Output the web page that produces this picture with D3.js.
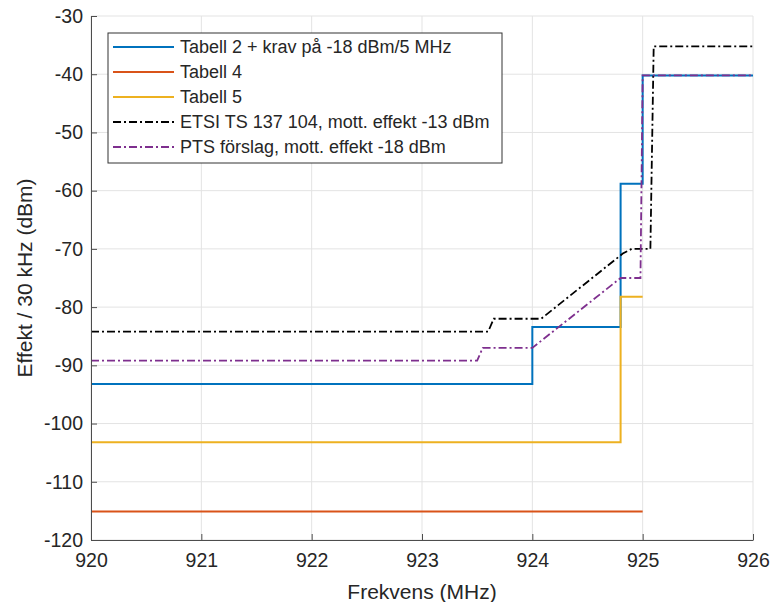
<!DOCTYPE html>
<html>
<head>
<meta charset="utf-8">
<script src="https://cdn.jsdelivr.net/npm/d3@7"></script>
<style>
  body { margin: 0; background: #fff; }
  svg { font-family: "Liberation Sans", Arial, Helvetica, sans-serif; }
</style>
</head>
<body>
<svg width="773" height="602"></svg>
<script>
// Values
var xTicks = [920, 921, 922, 923, 924, 925, 926];
var yTicks = [-30, -40, -50, -60, -70, -80, -90, -100, -110, -120];

var tabell2X = [920, 924, 924, 924.8, 924.8, 925, 925, 926];
var tabell2Y = [-93.2, -93.2, -83.4, -83.4, -58.8, -58.8, -40.2, -40.2];

var tabell4X = [920, 925];
var tabell4Y = [-115.1, -115.1];

var tabell5X = [920, 924.8, 924.8, 925];
var tabell5Y = [-103.2, -103.2, -78.2, -78.2];

var etsiX = [920, 923.6, 923.65, 924.08, 924.82, 924.9, 925.07, 925.1, 926];
var etsiY = [-84.2, -84.2, -82, -82, -70.8, -70, -70, -35.2, -35.2];

var ptsX = [920, 923.5, 923.55, 924, 924.8, 924.98, 925, 926];
var ptsY = [-89.2, -89.2, -87, -87, -75, -75, -40.2, -40.2];

var series = [
  { name: "Tabell 2 + krav på -18 dBm/5 MHz", x: tabell2X, y: tabell2Y, color: "#0072BD", width: 2, dash: null },
  { name: "Tabell 4", x: tabell4X, y: tabell4Y, color: "#D95319", width: 2, dash: null },
  { name: "Tabell 5", x: tabell5X, y: tabell5Y, color: "#EDB120", width: 2, dash: null },
  { name: "ETSI TS 137 104, mott. effekt -13 dBm", x: etsiX, y: etsiY, color: "#000000", width: 1.8, dash: "8,3,2,3" },
  { name: "PTS förslag, mott. effekt -18 dBm", x: ptsX, y: ptsY, color: "#7E2F8E", width: 1.8, dash: "8,3,2,3" }
];

var svg = d3.select("svg");
var margin = { top: 16, right: 20, bottom: 62, left: 91 };
var width = +svg.attr("width") - margin.left - margin.right;
var height = +svg.attr("height") - margin.top - margin.bottom;

var x = d3.scaleLinear().domain([920, 926]).range([0, width]);
var y = d3.scaleLinear().domain([-120, -30]).range([height, 0]);

var g = svg.append("g").attr("transform", "translate(" + margin.left + "," + margin.top + ")");

// grid
g.selectAll(".vgrid").data(xTicks).enter().append("line")
  .attr("x1", d => x(d)).attr("x2", d => x(d))
  .attr("y1", 0).attr("y2", height)
  .attr("stroke", "#e3e3e3").attr("stroke-width", 1);
g.selectAll(".hgrid").data(yTicks).enter().append("line")
  .attr("x1", 0).attr("x2", width)
  .attr("y1", d => y(d)).attr("y2", d => y(d))
  .attr("stroke", "#e3e3e3").attr("stroke-width", 1);

// series
var line = d3.line().x(d => x(d[0])).y(d => y(d[1]));
series.forEach(function(s) {
  var pts = s.x.map((v, i) => [v, s.y[i]]);
  g.append("path")
    .attr("d", line(pts))
    .attr("fill", "none")
    .attr("stroke", s.color)
    .attr("stroke-width", s.width)
    .attr("stroke-dasharray", s.dash);
});

// axes
var xAxis = d3.axisBottom(x).tickValues(xTicks).tickFormat(d => String(d))
  .tickSizeInner(-6).tickSizeOuter(0).tickPadding(13);
var yAxis = d3.axisLeft(y).tickValues(yTicks).tickFormat(d => String(d))
  .tickSizeInner(-6).tickSizeOuter(0).tickPadding(8);

var gx = g.append("g").attr("transform", "translate(0," + height + ")").call(xAxis);
var gy = g.append("g").call(yAxis);
[gx, gy].forEach(function(a) {
  a.select(".domain").attr("stroke", "#4d4d4d").attr("stroke-width", 1);
  a.selectAll(".tick line").attr("stroke", "#4d4d4d");
  a.selectAll(".tick text").attr("fill", "#262626").style("font-size", "19.5px");
});

// axis labels
svg.append("text")
  .attr("x", margin.left + width / 2).attr("y", 599)
  .attr("text-anchor", "middle")
  .attr("fill", "#262626").style("font-size", "21px")
  .text("Frekvens (MHz)");
svg.append("text")
  .attr("transform", "translate(32," + (margin.top + height / 2) + ") rotate(-90)")
  .attr("text-anchor", "middle")
  .attr("fill", "#262626").style("font-size", "21px")
  .text("Effekt / 30 kHz (dBm)");

// legend
var legend = svg.append("g").attr("transform", "translate(108,33)");
legend.append("rect")
  .attr("width", 394).attr("height", 130)
  .attr("fill", "#fff").attr("stroke", "#333").attr("stroke-width", 1);
series.forEach(function(s, i) {
  var ly = 14 + i * 25;
  legend.append("line")
    .attr("x1", 5).attr("x2", 66).attr("y1", ly).attr("y2", ly)
    .attr("stroke", s.color).attr("stroke-width", s.width)
    .attr("stroke-dasharray", s.dash);
  legend.append("text")
    .attr("x", 72).attr("y", ly).attr("dy", "0.35em")
    .attr("fill", "#262626").style("font-size", "18px")
    .text(s.name);
});
</script>
</body>
</html>
